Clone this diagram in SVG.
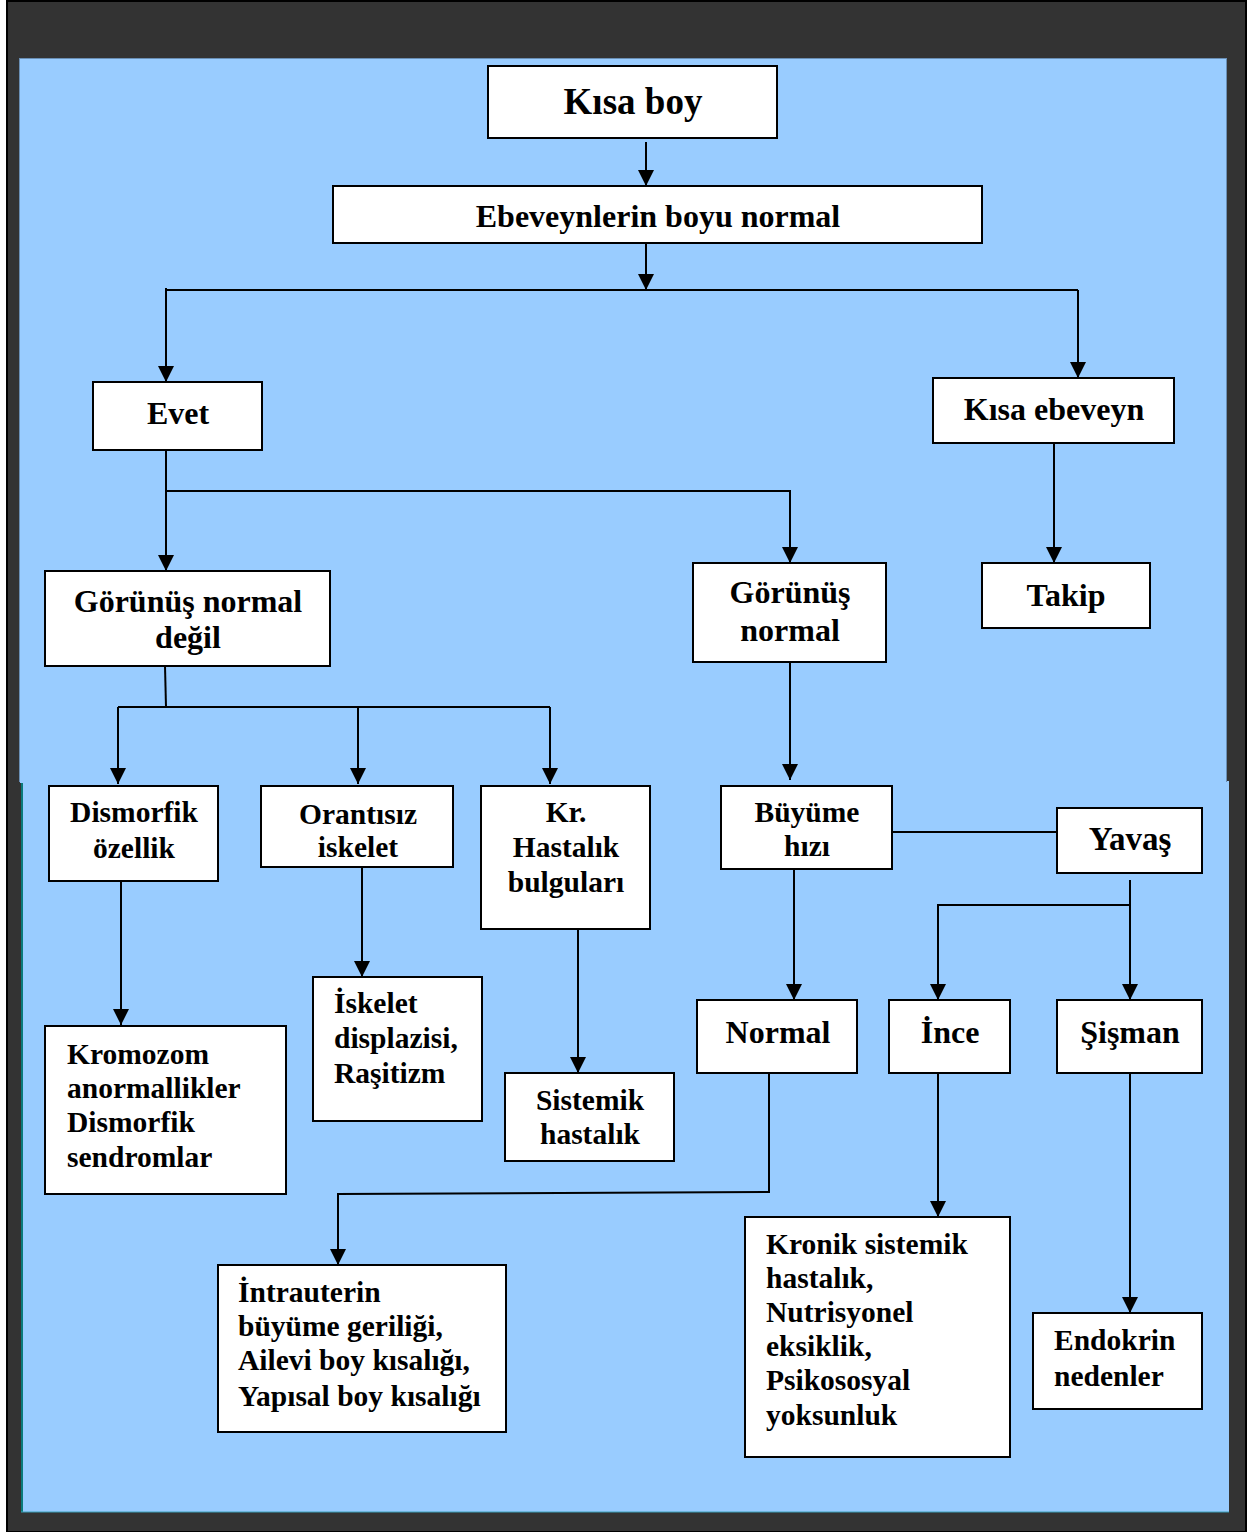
<svg xmlns="http://www.w3.org/2000/svg" width="1258" height="1532" viewBox="0 0 1258 1532">
<defs>
<marker id="ah" markerWidth="16" markerHeight="16" refX="16" refY="8" orient="auto" markerUnits="userSpaceOnUse" viewBox="0 0 16 16">
<path d="M0,0 L16,8 L0,16 Z" fill="#000"/>
</marker>
<style>
.box{fill:#fff;stroke:#000;stroke-width:2}
.t{font-family:"Liberation Serif","Times New Roman",serif;font-weight:bold;font-size:29.5px;fill:#000}
.b{font-size:32px}
.c{text-anchor:middle}
.ln{stroke:#000;stroke-width:2;fill:none}
</style>
</defs>
<rect x="0" y="0" width="1258" height="1532" fill="#fff"/>
<rect x="7" y="1" width="1239" height="1531" fill="#333333" stroke="#000" stroke-width="2"/>
<rect x="21" y="781" width="1208" height="731" fill="#99ccff"/>
<line x1="22" y1="781" x2="22" y2="1512" stroke="#0a7a7a" stroke-width="2"/>
<line x1="21" y1="1512" x2="1229" y2="1512" stroke="#3aa0b8" stroke-width="1"/>
<rect x="19.5" y="58.5" width="1207" height="723" fill="#99ccff" stroke="#6a8fb5" stroke-width="1"/>
<rect x="20" y="59" width="1206" height="724" fill="#99ccff"/>

<g id="connectors">
<path class="ln" d="M646,142 V186" marker-end="url(#ah)"/>
<path class="ln" d="M646,243 V290" marker-end="url(#ah)"/>
<path class="ln" d="M166,290 H1078"/>
<path class="ln" d="M166,288 V382" marker-end="url(#ah)"/>
<path class="ln" d="M1078,290 V378" marker-end="url(#ah)"/>
<path class="ln" d="M166,450 V571" marker-end="url(#ah)"/>
<path class="ln" d="M166,491 H790 V563" marker-end="url(#ah)"/>
<path class="ln" d="M1054,443 V563" marker-end="url(#ah)"/>
<path class="ln" d="M165,666 L166,707"/>
<path class="ln" d="M118,707 H550"/>
<path class="ln" d="M118,707 V784" marker-end="url(#ah)"/>
<path class="ln" d="M358,707 V784" marker-end="url(#ah)"/>
<path class="ln" d="M550,707 V784" marker-end="url(#ah)"/>
<path class="ln" d="M790,662 V780" marker-end="url(#ah)"/>
<path class="ln" d="M890,832 H1057"/>
<path class="ln" d="M1130,880 V1000" marker-end="url(#ah)"/>
<path class="ln" d="M1130,905 H938 V1000" marker-end="url(#ah)"/>
<path class="ln" d="M794,869 V1000" marker-end="url(#ah)"/>
<path class="ln" d="M121,881 V1025" marker-end="url(#ah)"/>
<path class="ln" d="M362,867 V977" marker-end="url(#ah)"/>
<path class="ln" d="M578,929 V1073" marker-end="url(#ah)"/>
<path class="ln" d="M769,1073 V1192 L338,1194 V1265" marker-end="url(#ah)"/>
<path class="ln" d="M938,1073 V1217" marker-end="url(#ah)"/>
<path class="ln" d="M1130,1073 V1313" marker-end="url(#ah)"/>
</g>

<g id="n-kisaboy"><rect class="box" x="488" y="66" width="289" height="72"/><text class="t c" x="633" y="114" style="font-size:37px">Kısa boy</text></g>
<g id="n-ebeveyn"><rect class="box" x="333" y="186" width="649" height="57"/><text class="t b c" x="658" y="227">Ebeveynlerin boyu normal</text></g>
<g id="n-evet"><rect class="box" x="93" y="382" width="169" height="68"/><text class="t b c" x="178" y="424">Evet</text></g>
<g id="n-kisaebeveyn"><rect class="box" x="933" y="378" width="241" height="65"/><text class="t b c" x="1054" y="420">Kısa ebeveyn</text></g>
<g id="n-gorunusdegil"><rect class="box" x="45" y="571" width="285" height="95"/><text class="t b c" x="188" y="612">Görünüş normal</text><text class="t b c" x="188" y="648">değil</text></g>
<g id="n-gorunusnormal"><rect class="box" x="693" y="563" width="193" height="99"/><text class="t b c" x="790" y="603">Görünüş</text><text class="t b c" x="790" y="641">normal</text></g>
<g id="n-takip"><rect class="box" x="982" y="563" width="168" height="65"/><text class="t b c" x="1066" y="606">Takip</text></g>
<g id="n-dismorfik"><rect class="box" x="49" y="786" width="169" height="95"/><text class="t c" x="134" y="822">Dismorfik</text><text class="t c" x="134" y="858">özellik</text></g>
<g id="n-orantisiz"><rect class="box" x="261" y="786" width="192" height="81"/><text class="t c" x="358" y="824">Orantısız</text><text class="t c" x="358" y="857">iskelet</text></g>
<g id="n-kr"><rect class="box" x="481" y="786" width="169" height="143"/><text class="t c" x="566" y="822">Kr.</text><text class="t c" x="566" y="857">Hastalık</text><text class="t c" x="566" y="892">bulguları</text></g>
<g id="n-buyume"><rect class="box" x="721" y="786" width="171" height="83"/><text class="t c" x="807" y="822">Büyüme</text><text class="t c" x="807" y="856">hızı</text></g>
<g id="n-yavas"><rect class="box" x="1057" y="808" width="145" height="65"/><text class="t b c" x="1130" y="850" style="font-size:33px">Yavaş</text></g>
<g id="n-normal"><rect class="box" x="697" y="1000" width="160" height="73"/><text class="t b c" x="778" y="1043">Normal</text></g>
<g id="n-ince"><rect class="box" x="889" y="1000" width="121" height="73"/><text class="t b c" x="950" y="1043">İnce</text></g>
<g id="n-sisman"><rect class="box" x="1057" y="1000" width="145" height="73"/><text class="t b c" x="1130" y="1043">Şişman</text></g>
<g id="n-kromozom"><rect class="box" x="45" y="1026" width="241" height="168"/><text class="t" x="67" y="1064">Kromozom</text><text class="t" x="67" y="1098">anormallikler</text><text class="t" x="67" y="1132">Dismorfik</text><text class="t" x="67" y="1167">sendromlar</text></g>
<g id="n-iskelet"><rect class="box" x="313" y="977" width="169" height="144"/><text class="t" x="334" y="1013">İskelet</text><text class="t" x="334" y="1048">displazisi,</text><text class="t" x="334" y="1083">Raşitizm</text></g>
<g id="n-sistemik"><rect class="box" x="505" y="1073" width="169" height="88"/><text class="t c" x="590" y="1110">Sistemik</text><text class="t c" x="590" y="1144">hastalık</text></g>
<g id="n-intrauterin"><rect class="box" x="218" y="1265" width="288" height="167"/><text class="t" x="238" y="1302">İntrauterin</text><text class="t" x="238" y="1336">büyüme geriliği,</text><text class="t" x="238" y="1370">Ailevi boy kısalığı,</text><text class="t" x="238" y="1406">Yapısal boy kısalığı</text></g>
<g id="n-kronik"><rect class="box" x="745" y="1217" width="265" height="240"/><text class="t" x="766" y="1254">Kronik sistemik</text><text class="t" x="766" y="1288">hastalık,</text><text class="t" x="766" y="1322">Nutrisyonel</text><text class="t" x="766" y="1356">eksiklik,</text><text class="t" x="766" y="1390">Psikososyal</text><text class="t" x="766" y="1425">yoksunluk</text></g>
<g id="n-endokrin"><rect class="box" x="1033" y="1313" width="169" height="96"/><text class="t" x="1054" y="1350">Endokrin</text><text class="t" x="1054" y="1386">nedenler</text></g>
</svg>
